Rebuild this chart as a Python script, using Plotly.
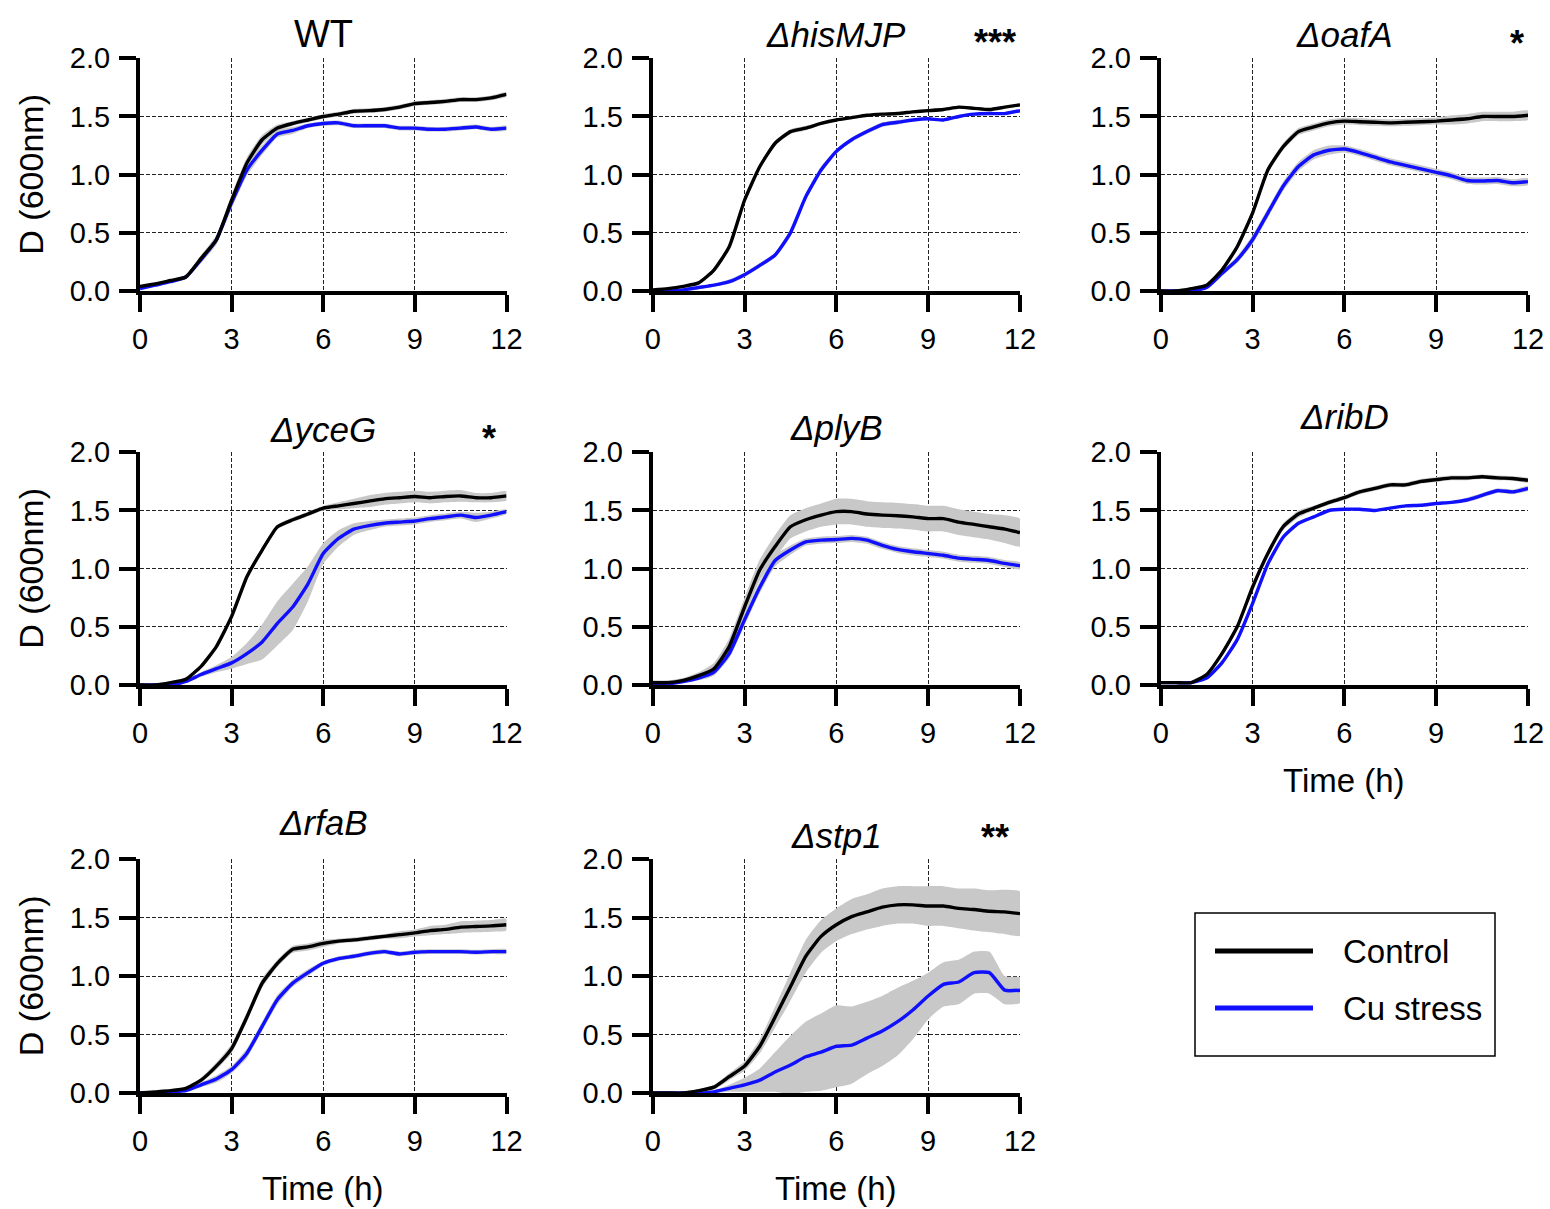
import plotly.graph_objects as go

# ---------------- data (OD600 vs time, mean and SD) ----------------
TIME_H = [0, 0.5, 1, 1.5, 2, 2.5, 3, 3.5, 4, 4.5, 5, 5.5, 6, 6.5, 7, 7.5, 8, 8.5, 9, 9.5, 10, 10.5, 11, 11.5, 12]

WT_CTRL = [0.04, 0.06, 0.09, 0.12, 0.28, 0.44, 0.78, 1.10, 1.30, 1.40, 1.44, 1.47, 1.50, 1.52, 1.545, 1.55, 1.56, 1.58, 1.61, 1.62, 1.63, 1.645, 1.645, 1.66, 1.69]
WT_CTRL_SD = [0.01, 0.01, 0.01, 0.02, 0.03, 0.04, 0.05, 0.05, 0.04, 0.03, 0.02, 0.02, 0.02, 0.02, 0.02, 0.02, 0.02, 0.02, 0.02, 0.02, 0.02, 0.02, 0.02, 0.02, 0.02]
WT_CU = [0.02, 0.05, 0.08, 0.12, 0.27, 0.44, 0.76, 1.04, 1.21, 1.35, 1.38, 1.42, 1.44, 1.445, 1.42, 1.42, 1.42, 1.40, 1.40, 1.39, 1.39, 1.40, 1.41, 1.39, 1.40]
WT_CU_SD = [0.01, 0.01, 0.01, 0.02, 0.03, 0.04, 0.05, 0.05, 0.04, 0.03, 0.03, 0.02, 0.02, 0.02, 0.02, 0.02, 0.02, 0.02, 0.02, 0.02, 0.02, 0.02, 0.02, 0.02, 0.02]

HIS_CTRL = [0.01, 0.02, 0.04, 0.07, 0.18, 0.38, 0.78, 1.07, 1.27, 1.37, 1.40, 1.44, 1.47, 1.49, 1.51, 1.52, 1.525, 1.54, 1.55, 1.56, 1.58, 1.57, 1.56, 1.58, 1.60]
HIS_CTRL_SD = [0.01, 0.01, 0.01, 0.01, 0.02, 0.02, 0.02, 0.02, 0.02, 0.02, 0.02, 0.01, 0.01, 0.01, 0.01, 0.01, 0.01, 0.01, 0.01, 0.01, 0.01, 0.01, 0.01, 0.01, 0.01]
HIS_CU = [0.0, 0.0, 0.01, 0.03, 0.05, 0.08, 0.14, 0.22, 0.31, 0.50, 0.81, 1.04, 1.20, 1.30, 1.37, 1.43, 1.45, 1.47, 1.48, 1.47, 1.50, 1.52, 1.525, 1.525, 1.55]
HIS_CU_SD = [0.0, 0.0, 0.01, 0.01, 0.01, 0.02, 0.02, 0.02, 0.02, 0.03, 0.03, 0.03, 0.02, 0.02, 0.02, 0.02, 0.02, 0.01, 0.01, 0.01, 0.01, 0.01, 0.01, 0.01, 0.01]

OAF_CTRL = [0.0, 0.0, 0.02, 0.05, 0.18, 0.38, 0.67, 1.04, 1.24, 1.37, 1.41, 1.445, 1.46, 1.455, 1.45, 1.445, 1.45, 1.455, 1.46, 1.47, 1.48, 1.50, 1.50, 1.50, 1.51]
OAF_CTRL_SD = [0.0, 0.0, 0.01, 0.01, 0.02, 0.03, 0.03, 0.03, 0.03, 0.03, 0.03, 0.03, 0.03, 0.03, 0.03, 0.03, 0.03, 0.03, 0.03, 0.04, 0.04, 0.04, 0.04, 0.04, 0.04]
OAF_CU = [0.0, 0.0, 0.0, 0.03, 0.15, 0.27, 0.44, 0.67, 0.90, 1.07, 1.17, 1.21, 1.22, 1.19, 1.15, 1.11, 1.08, 1.05, 1.02, 0.99, 0.95, 0.945, 0.95, 0.93, 0.94]
OAF_CU_SD = [0.0, 0.0, 0.0, 0.01, 0.02, 0.03, 0.04, 0.04, 0.04, 0.04, 0.04, 0.04, 0.03, 0.03, 0.03, 0.03, 0.03, 0.03, 0.03, 0.03, 0.03, 0.03, 0.03, 0.03, 0.03]

YCE_CTRL = [0.0, 0.0, 0.02, 0.05, 0.16, 0.33, 0.59, 0.93, 1.16, 1.36, 1.42, 1.47, 1.52, 1.54, 1.56, 1.58, 1.60, 1.61, 1.62, 1.61, 1.62, 1.625, 1.61, 1.61, 1.625]
YCE_CTRL_SD = [0.0, 0.0, 0.01, 0.01, 0.01, 0.02, 0.02, 0.02, 0.02, 0.02, 0.02, 0.02, 0.02, 0.03, 0.04, 0.05, 0.05, 0.05, 0.05, 0.05, 0.05, 0.05, 0.04, 0.04, 0.04]
YCE_CU = [0.0, 0.0, 0.0, 0.03, 0.09, 0.14, 0.19, 0.27, 0.37, 0.53, 0.67, 0.87, 1.13, 1.26, 1.34, 1.37, 1.39, 1.40, 1.41, 1.43, 1.445, 1.46, 1.44, 1.46, 1.49]
YCE_CU_SD = [0.0, 0.0, 0.01, 0.01, 0.02, 0.03, 0.05, 0.09, 0.15, 0.19, 0.20, 0.15, 0.09, 0.07, 0.05, 0.04, 0.03, 0.03, 0.03, 0.03, 0.03, 0.03, 0.04, 0.03, 0.02]

PLY_CTRL = [0.02, 0.02, 0.04, 0.08, 0.14, 0.33, 0.67, 0.99, 1.19, 1.36, 1.42, 1.46, 1.49, 1.49, 1.47, 1.46, 1.455, 1.445, 1.43, 1.43, 1.40, 1.38, 1.36, 1.34, 1.31]
PLY_CTRL_SD = [0.02, 0.02, 0.02, 0.03, 0.05, 0.07, 0.08, 0.09, 0.10, 0.10, 0.10, 0.10, 0.11, 0.11, 0.11, 0.11, 0.11, 0.11, 0.11, 0.11, 0.11, 0.11, 0.11, 0.12, 0.12]
PLY_CU = [0.0, 0.01, 0.03, 0.06, 0.11, 0.27, 0.56, 0.84, 1.07, 1.16, 1.23, 1.245, 1.25, 1.26, 1.245, 1.20, 1.165, 1.145, 1.13, 1.115, 1.09, 1.08, 1.07, 1.045, 1.025]
PLY_CU_SD = [0.0, 0.01, 0.01, 0.02, 0.03, 0.04, 0.05, 0.05, 0.05, 0.04, 0.03, 0.03, 0.03, 0.03, 0.03, 0.03, 0.03, 0.03, 0.03, 0.03, 0.03, 0.03, 0.03, 0.03, 0.03]

RIB_CTRL = [0.02, 0.02, 0.02, 0.09, 0.27, 0.50, 0.84, 1.13, 1.36, 1.47, 1.52, 1.57, 1.61, 1.66, 1.69, 1.72, 1.72, 1.75, 1.765, 1.78, 1.78, 1.79, 1.78, 1.775, 1.76]
RIB_CTRL_SD = [0.0, 0.0, 0.01, 0.01, 0.02, 0.02, 0.03, 0.03, 0.03, 0.03, 0.02, 0.02, 0.02, 0.02, 0.02, 0.02, 0.02, 0.02, 0.02, 0.02, 0.02, 0.02, 0.02, 0.02, 0.02]
RIB_CU = [0.02, 0.02, 0.02, 0.06, 0.19, 0.39, 0.70, 1.04, 1.27, 1.39, 1.445, 1.50, 1.51, 1.51, 1.50, 1.52, 1.54, 1.545, 1.56, 1.57, 1.59, 1.63, 1.67, 1.66, 1.69]
RIB_CU_SD = [0.0, 0.0, 0.01, 0.01, 0.02, 0.02, 0.02, 0.02, 0.02, 0.02, 0.01, 0.01, 0.01, 0.01, 0.01, 0.01, 0.01, 0.01, 0.01, 0.01, 0.02, 0.02, 0.02, 0.02, 0.02]

RFA_CTRL = [0.0, 0.01, 0.02, 0.04, 0.11, 0.23, 0.38, 0.65, 0.94, 1.11, 1.23, 1.25, 1.28, 1.30, 1.31, 1.325, 1.34, 1.355, 1.37, 1.39, 1.40, 1.42, 1.425, 1.43, 1.44]
RFA_CTRL_SD = [0.0, 0.0, 0.01, 0.01, 0.02, 0.03, 0.04, 0.04, 0.04, 0.03, 0.03, 0.03, 0.03, 0.02, 0.02, 0.02, 0.02, 0.03, 0.03, 0.04, 0.04, 0.05, 0.05, 0.05, 0.05]
RFA_CU = [0.0, 0.0, 0.01, 0.02, 0.07, 0.12, 0.20, 0.34, 0.57, 0.80, 0.94, 1.03, 1.11, 1.15, 1.17, 1.195, 1.21, 1.19, 1.205, 1.21, 1.21, 1.21, 1.205, 1.21, 1.21]
RFA_CU_SD = [0.0, 0.0, 0.01, 0.01, 0.02, 0.03, 0.03, 0.04, 0.04, 0.04, 0.03, 0.03, 0.02, 0.02, 0.02, 0.02, 0.02, 0.02, 0.02, 0.02, 0.02, 0.02, 0.02, 0.02, 0.02]

STP_CTRL = [0.0, 0.0, 0.0, 0.02, 0.05, 0.14, 0.23, 0.40, 0.65, 0.91, 1.17, 1.34, 1.44, 1.51, 1.55, 1.59, 1.61, 1.61, 1.60, 1.60, 1.58, 1.57, 1.555, 1.55, 1.535]
STP_CTRL_SD = [0.0, 0.0, 0.01, 0.01, 0.02, 0.03, 0.04, 0.06, 0.09, 0.12, 0.14, 0.14, 0.14, 0.15, 0.15, 0.16, 0.16, 0.16, 0.17, 0.17, 0.17, 0.18, 0.18, 0.19, 0.19]
STP_CU = [0.0, 0.0, 0.0, 0.0, 0.01, 0.04, 0.07, 0.11, 0.18, 0.24, 0.31, 0.35, 0.40, 0.41, 0.47, 0.53, 0.61, 0.71, 0.83, 0.93, 0.95, 1.03, 1.03, 0.88, 0.88]
STP_CU_SD = [0.0, 0.0, 0.0, 0.0, 0.01, 0.03, 0.06, 0.10, 0.17, 0.25, 0.30, 0.33, 0.35, 0.33, 0.31, 0.30, 0.29, 0.25, 0.20, 0.19, 0.19, 0.18, 0.18, 0.12, 0.11]

PANEL_TITLES = ["WT", "<i>ΔhisMJP</i>", "<i>ΔoafA</i>", "<i>ΔyceG</i>", "<i>ΔplyB</i>",
                "<i>ΔribD</i>", "<i>ΔrfaB</i>", "<i>Δstp1</i>"]
SIGNIFICANCE = ["", "***", "*", "*", "", "", "", "**"]
SERIES_NAMES = ["Control", "Cu stress"]
X_TICKS = [0, 3, 6, 9, 12]
Y_TICKS = [0.0, 0.5, 1.0, 1.5, 2.0]
Y_TICK_TEXT = ["0.0", "0.5", "1.0", "1.5", "2.0"]
Y_TITLE = "D (600nm)"
X_TITLE = "Time (h)"

PANELS = [
    (WT_CTRL, WT_CTRL_SD, WT_CU, WT_CU_SD),
    (HIS_CTRL, HIS_CTRL_SD, HIS_CU, HIS_CU_SD),
    (OAF_CTRL, OAF_CTRL_SD, OAF_CU, OAF_CU_SD),
    (YCE_CTRL, YCE_CTRL_SD, YCE_CU, YCE_CU_SD),
    (PLY_CTRL, PLY_CTRL_SD, PLY_CU, PLY_CU_SD),
    (RIB_CTRL, RIB_CTRL_SD, RIB_CU, RIB_CU_SD),
    (RFA_CTRL, RFA_CTRL_SD, RFA_CU, RFA_CU_SD),
    (STP_CTRL, STP_CTRL_SD, STP_CU, STP_CU_SD),
]

# ---------------- styling ----------------
W, H = 1550, 1209
FONT = "Liberation Sans, Arial, Helvetica, sans-serif"
BLACK = "#000000"
BLUE = "#1010ff"
BAND = "rgba(200,200,200,1)"
GRID = "#222222"
TICK_SIZE = 29

COL_PX = [(140.0, 506.5), (652.7, 1020.0), (1160.7, 1528.0)]
ROW_PX = [(58.3, 291.0), (452.3, 685.0), (859.3, 1093.0)]
TITLE_SHIFT = [1, 2, 2, 1, 3, 14, 15, 2]
STAR_X = [None, 11.19, 11.64, 11.44, None, None, None, 11.19]
STAR_SHIFT = [0, 18, 17, 16, 0, 0, 0, 24]


def px(xp):
    return xp / W


def py(yp):
    return 1 - yp / H


fig = go.Figure()
layout = dict(
    width=W, height=H,
    margin=dict(l=0, r=0, t=0, b=0, autoexpand=False),
    paper_bgcolor="white", plot_bgcolor="white",
    showlegend=False,
    font=dict(family=FONT, color="black", size=TICK_SIZE),
)
annotations = []
shapes = []

for i, (ctrl, ctrl_sd, cu, cu_sd) in enumerate(PANELS):
    r, c = divmod(i, 3)
    n = "" if i == 0 else str(i + 1)
    xa, ya = "x" + n, "y" + n

    # SD bands
    for mean, sd in ((ctrl, ctrl_sd), (cu, cu_sd)):
        upper = [m + s for m, s in zip(mean, sd)]
        lower = [m - s for m, s in zip(mean, sd)]
        fig.add_trace(go.Scatter(x=TIME_H + TIME_H[::-1], y=upper + lower[::-1],
                                 fill="toself", fillcolor=BAND, mode="lines",
                                 line=dict(width=0, color=BAND, shape="spline", smoothing=0.5),
                                 hoverinfo="skip", xaxis=xa, yaxis=ya))
    fig.add_trace(go.Scatter(x=TIME_H, y=cu, mode="lines", name=SERIES_NAMES[1],
                             line=dict(color=BLUE, width=3.4, shape="spline", smoothing=0.5),
                             xaxis=xa, yaxis=ya))
    fig.add_trace(go.Scatter(x=TIME_H, y=ctrl, mode="lines", name=SERIES_NAMES[0],
                             line=dict(color=BLACK, width=3.4, shape="spline", smoothing=0.5),
                             xaxis=xa, yaxis=ya))

    x0, x1 = COL_PX[c]
    y0, y1 = ROW_PX[r]
    layout["xaxis" + n] = dict(
        domain=[x0 / W, x1 / W], anchor=ya, range=[0, 12],
        tickmode="array", tickvals=X_TICKS, automargin=False,
        showline=True, linecolor="black", linewidth=4,
        ticks="outside", ticklen=17, tickwidth=4, tickcolor="black",
        tickfont=dict(size=TICK_SIZE, family=FONT, color="black"),
        ticklabelstandoff=2,
        showgrid=True, gridcolor=GRID, gridwidth=1, griddash="4px,2px",
        zeroline=False, fixedrange=True,
    )
    layout["yaxis" + n] = dict(
        domain=[1 - y1 / H, 1 - y0 / H], anchor=xa, range=[0, 2],
        tickmode="array", tickvals=Y_TICKS, ticktext=Y_TICK_TEXT, automargin=False,
        showline=True, linecolor="black", linewidth=4,
        ticks="outside", ticklen=17, tickwidth=4, tickcolor="black",
        tickfont=dict(size=TICK_SIZE, family=FONT, color="black"),
        ticklabelstandoff=3,
        showgrid=True, gridcolor=GRID, gridwidth=1, griddash="4px,2px",
        zeroline=False, fixedrange=True,
    )

    # axis titles
    if c == 0:
        annotations.append(dict(
            text=Y_TITLE, xref="paper", yref=ya + " domain", x=px(31), y=0.5,
            xanchor="center", yanchor="middle", textangle=-90, showarrow=False,
            font=dict(size=34, family=FONT, color="black")))
    if i in (5, 6, 7):
        annotations.append(dict(
            text=X_TITLE, xref=xa + " domain", yref=ya + " domain", x=0.5, y=0,
            xanchor="center", yanchor="middle", yshift=-95, showarrow=False,
            font=dict(size=33, family=FONT, color="black")))

    annotations.append(dict(
        text=PANEL_TITLES[i], xref=xa + " domain", yref=ya + " domain",
        x=0.5, y=1, xanchor="center", yanchor="bottom", yshift=TITLE_SHIFT[i],
        showarrow=False, font=dict(size=38 if i == 0 else 35, family=FONT, color="black")))
    if SIGNIFICANCE[i]:
        annotations.append(dict(
            text="<b>" + SIGNIFICANCE[i] + "</b>", xref=xa, yref=ya + " domain",
            x=STAR_X[i], y=1, xanchor="center", yanchor="middle", yshift=STAR_SHIFT[i] - 2,
            showarrow=False, font=dict(size=36, family=FONT, color="black")))

# legend box drawn in the empty ninth cell
shapes.append(dict(type="rect", xref="paper", yref="paper",
                   x0=px(1195), x1=px(1495), y0=py(1056), y1=py(913),
                   line=dict(color="black", width=1.5), fillcolor="white"))
for k, (col, ypx) in enumerate(((BLACK, 951), (BLUE, 1008))):
    shapes.append(dict(type="line", xref="paper", yref="paper",
                       x0=px(1215), x1=px(1313), y0=py(ypx), y1=py(ypx),
                       line=dict(color=col, width=5)))
    annotations.append(dict(text=SERIES_NAMES[k], xref="paper", yref="paper",
                            x=px(1341), y=py(ypx), xanchor="left", yanchor="middle",
                            showarrow=False, font=dict(size=33, family=FONT, color="black")))

layout["annotations"] = annotations
layout["shapes"] = shapes
fig.update_layout(**layout)
fig.write_html("out.html")
